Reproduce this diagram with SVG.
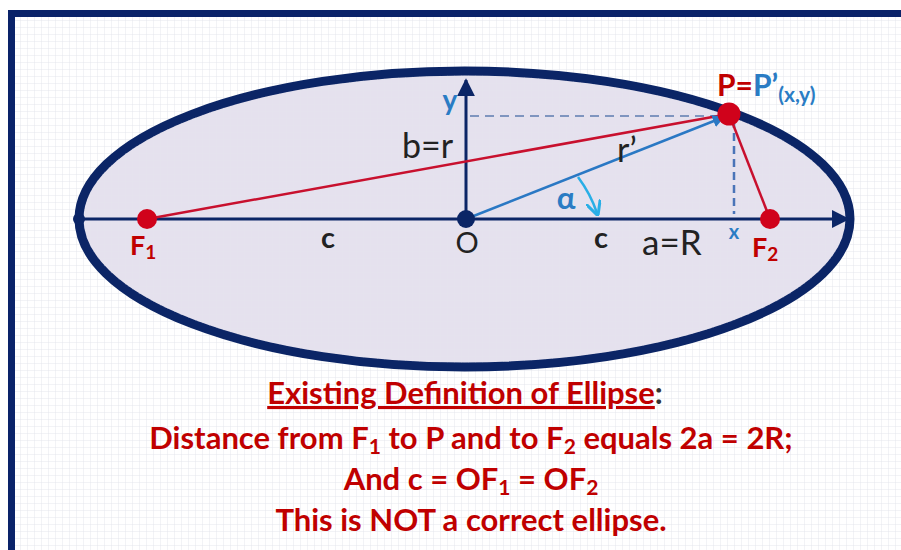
<svg xmlns="http://www.w3.org/2000/svg" width="901" height="550" viewBox="0 0 901 550">
<defs>
<pattern id="grid" width="7" height="7" patternUnits="userSpaceOnUse">
<path d="M7 0V7H0" fill="none" stroke="#e4e6ed" stroke-width="1"/>
</pattern>
<marker id="navyHead" viewBox="0 0 10 10" refX="9" refY="5" markerWidth="6" markerHeight="6" orient="auto" markerUnits="strokeWidth">
<path d="M0 0L10 5L0 10Z" fill="#0b2566"/>
</marker>
<marker id="blueHead" viewBox="0 0 10 10" refX="9" refY="5" markerWidth="5" markerHeight="5" orient="auto" markerUnits="strokeWidth">
<path d="M0 0L10 5L0 10Z" fill="#2a78c4"/>
</marker>
<marker id="cyanHead" viewBox="0 0 10 10" refX="8" refY="5" markerWidth="6" markerHeight="6" orient="auto" markerUnits="strokeWidth">
<path d="M0 0L10 5L0 10" fill="none" stroke="#29aee6" stroke-width="2"/>
</marker>
</defs>
<style>
.lbl{font-family:Lato,"Open Sans","Liberation Sans",sans-serif}
.blk{fill:#222}
.red{fill:#c00000;font-weight:bold}
.blu{fill:#2a7cc4;font-weight:bold}
.cap{font-family:Lato,"Open Sans","Liberation Sans",sans-serif;font-weight:bold;fill:#c00000;font-size:31px;text-anchor:middle}
</style>
<rect x="0" y="0" width="901" height="550" fill="#ffffff"/>
<rect x="11.5" y="13.5" width="900" height="550" fill="url(#grid)" stroke="#0a2369" stroke-width="7"/>

<g id="ellipse">
<ellipse cx="464.5" cy="219" rx="385.5" ry="148" fill="#e5e1ee" stroke="#0b2566" stroke-width="9"/>
<ellipse cx="464.5" cy="219" rx="381" ry="143.5" fill="url(#grid)" opacity="0.5"/>
</g>

<g id="connectors">
<line x1="79" y1="219" x2="848" y2="219" stroke="#0b2566" stroke-width="3" marker-end="url(#navyHead)"/>
<line x1="466" y1="219" x2="466" y2="80" stroke="#0b2566" stroke-width="3" marker-end="url(#navyHead)"/>
<line x1="470" y1="116" x2="724" y2="116" stroke="#7f95bf" stroke-width="2" stroke-dasharray="9,6"/>
<line x1="734" y1="120" x2="734" y2="214" stroke="#4a74b8" stroke-width="2.5" stroke-dasharray="8,5"/>
<line x1="147" y1="219" x2="729" y2="114" stroke="#c8102e" stroke-width="2.5"/>
<line x1="729" y1="114" x2="770" y2="219" stroke="#c8102e" stroke-width="2.5"/>
<line x1="466" y1="219" x2="724" y2="117" stroke="#2a78c4" stroke-width="2.5" marker-end="url(#blueHead)"/>
<path d="M578 177 A131 131 0 0 1 597 213" fill="none" stroke="#29aee6" stroke-width="2.5" marker-end="url(#cyanHead)"/>
</g>

<g id="O">
<circle cx="466" cy="219" r="9" fill="#0b2566"/>
<text class="lbl blk" x="467" y="253" font-size="29" text-anchor="middle">O</text>
</g>
<g id="leftVertex"><circle cx="79" cy="219" r="6" fill="#0b2566"/></g>
<g id="F1">
<circle cx="147" cy="219" r="10" fill="#d0021b"/>
<text class="lbl red" x="130" y="255" font-size="27">F<tspan font-size="19" dy="4">1</tspan></text>
</g>
<g id="F2">
<circle cx="770" cy="219" r="10" fill="#d0021b"/>
<text class="lbl red" x="752" y="257" font-size="27">F<tspan font-size="19" dy="4">2</tspan></text>
</g>
<g id="P">
<circle cx="729" cy="114" r="11.5" fill="#d0021b"/>
<text class="lbl" x="717" y="96" font-size="30" font-weight="bold"><tspan fill="#c00000">P=</tspan><tspan fill="#2a7cc4">P’</tspan><tspan fill="#2a7cc4" font-size="21" dy="6">(x,y)</tspan></text>
</g>

<g id="labels">
<text class="lbl blu" x="450" y="110" font-size="28" text-anchor="middle">y</text>
<text class="lbl blk" x="402" y="158" font-size="34">b=r</text>
<text class="lbl blk" x="617" y="162" font-size="34">r’</text>
<text class="lbl blu" x="566" y="209" font-size="31" text-anchor="middle">α</text>
<text class="lbl blk" x="328" y="248" font-size="29" font-weight="bold" text-anchor="middle">c</text>
<text class="lbl blk" x="601" y="248" font-size="29" font-weight="bold" text-anchor="middle">c</text>
<text class="lbl blk" x="642" y="255" font-size="35">a=R</text>
<text class="lbl blu" x="734" y="239" font-size="20" text-anchor="middle">x</text>
</g>

<g id="caption">
<text class="cap" x="465" y="404"><tspan text-decoration="underline">Existing Definition  of Ellipse</tspan><tspan fill="#333">:</tspan></text>
<text class="cap" x="471" y="449">Distance from F<tspan font-size="21" dy="5">1</tspan><tspan dy="-5"> to P and to F</tspan><tspan font-size="21" dy="5">2</tspan><tspan dy="-5"> equals 2a = 2R;</tspan></text>
<text class="cap" x="471" y="490">And c = OF<tspan font-size="21" dy="5">1</tspan><tspan dy="-5"> = OF</tspan><tspan font-size="21" dy="5">2</tspan></text>
<text class="cap" x="471" y="531">This is NOT a correct ellipse.</text>
</g>
</svg>
